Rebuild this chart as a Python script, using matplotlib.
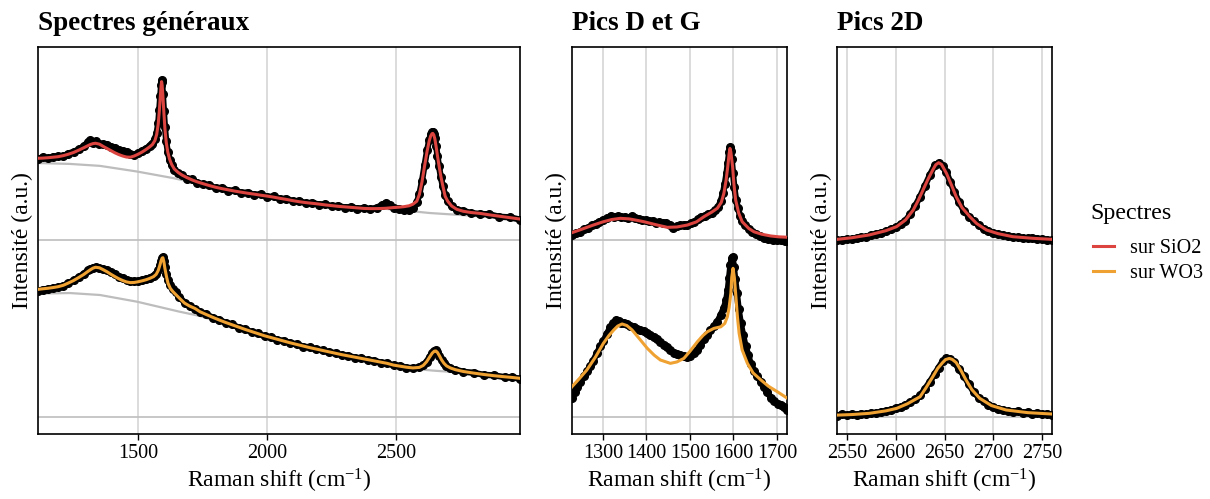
import matplotlib.pyplot as plt

plt.rcParams['font.family'] = ['Liberation Serif', 'DejaVu Serif']
plt.rcParams['mathtext.fontset'] = 'custom'
plt.rcParams['mathtext.rm'] = 'Liberation Serif'
plt.rcParams['mathtext.it'] = 'Liberation Serif:italic'

RED = '#DC4440'
ORANGE = '#EFA232'
GRID = '#D9D9D9'
HLINE = '#BEBEBE'

# ---- Panel 1 : spectres généraux (décalés de +1 pour SiO2) ----
gen_sio2_x = [1112, 1130, 1150, 1170, 1190, 1210, 1230, 1250, 1270, 1290, 1305, 1315, 1325, 1335,
              1350, 1365, 1380, 1395, 1410, 1425, 1440, 1455, 1470, 1485, 1500, 1515, 1530, 1545,
              1555, 1565, 1572, 1578, 1582, 1586, 1589, 1591, 1593, 1596, 1600, 1604, 1609, 1615,
              1622, 1630, 1640, 1655, 1670, 1690, 1710, 1730, 1750, 1775, 1800, 1825, 1850, 1875,
              1900, 1925, 1950, 1975, 2000, 2025, 2050, 2075, 2100, 2125, 2150, 2175, 2200, 2225,
              2250, 2275, 2300, 2325, 2350, 2375, 2400, 2425, 2445, 2460, 2475, 2490, 2510, 2530,
              2550, 2565, 2580, 2590, 2600, 2610, 2620, 2628, 2634, 2639, 2642, 2646, 2650, 2655,
              2660, 2666, 2673, 2680, 2690, 2700, 2715, 2735, 2760, 2790, 2825, 2860, 2900, 2940, 2980]
gen_sio2_fit = [1.465, 1.466, 1.468, 1.471, 1.474, 1.480, 1.488, 1.498, 1.511, 1.525, 1.536, 1.543, 1.548, 1.550,
                1.545, 1.532, 1.520, 1.508, 1.496, 1.486, 1.478, 1.472, 1.471, 1.478, 1.488, 1.500, 1.514, 1.530,
                1.542, 1.565, 1.600, 1.660, 1.730, 1.815, 1.875, 1.899, 1.880, 1.820, 1.720, 1.630, 1.555, 1.500,
                1.460, 1.430, 1.405, 1.385, 1.370, 1.355, 1.342, 1.331, 1.322, 1.311, 1.301, 1.293, 1.286, 1.279,
                1.273, 1.267, 1.262, 1.256, 1.251, 1.245, 1.238, 1.232, 1.225, 1.219, 1.214, 1.210, 1.206, 1.201,
                1.197, 1.193, 1.190, 1.187, 1.184, 1.181, 1.180, 1.180, 1.181, 1.182, 1.184, 1.186, 1.188, 1.191,
                1.196, 1.205, 1.222, 1.260, 1.330, 1.420, 1.505, 1.562, 1.592, 1.604, 1.606, 1.597, 1.575, 1.530,
                1.480, 1.425, 1.365, 1.315, 1.250, 1.222, 1.195, 1.176, 1.165, 1.158, 1.153, 1.145, 1.137, 1.129, 1.121]
gen_sio2_raw = [1.462, 1.470, 1.464, 1.474, 1.478, 1.476, 1.492, 1.502, 1.515, 1.535, 1.556, 1.566, 1.552, 1.560,
                1.548, 1.545, 1.540, 1.528, 1.524, 1.512, 1.505, 1.500, 1.488, 1.482, 1.494, 1.508, 1.520, 1.535,
                1.548, 1.575, 1.610, 1.665, 1.740, 1.820, 1.880, 1.910, 1.895, 1.830, 1.730, 1.640, 1.560, 1.500,
                1.455, 1.425, 1.400, 1.380, 1.368, 1.350, 1.345, 1.325, 1.318, 1.314, 1.296, 1.298, 1.282, 1.284,
                1.270, 1.271, 1.258, 1.262, 1.246, 1.249, 1.235, 1.237, 1.222, 1.224, 1.210, 1.214, 1.203, 1.205,
                1.193, 1.197, 1.186, 1.190, 1.180, 1.184, 1.177, 1.186, 1.200, 1.212, 1.200, 1.182, 1.180, 1.175,
                1.170, 1.185, 1.215, 1.262, 1.335, 1.425, 1.510, 1.568, 1.600, 1.612, 1.615, 1.605, 1.580, 1.535,
                1.480, 1.420, 1.360, 1.310, 1.255, 1.222, 1.192, 1.172, 1.168, 1.155, 1.150, 1.148, 1.134, 1.131, 1.118]
gen_sio2_base_x = [1112, 1236, 1352, 1496, 1635, 1740, 1934, 2127, 2321, 2515, 2631, 2748, 2980]
gen_sio2_base = [1.438, 1.433, 1.422, 1.390, 1.353, 1.320, 1.268, 1.228, 1.195, 1.172, 1.155, 1.144, 1.121]

gen_wo3_x = [1112, 1130, 1150, 1170, 1190, 1210, 1230, 1250, 1270, 1290, 1305, 1315, 1325, 1335,
             1350, 1365, 1380, 1395, 1410, 1425, 1440, 1455, 1470, 1485, 1500, 1515, 1530, 1545,
             1560, 1570, 1578, 1584, 1589, 1593, 1596, 1600, 1604, 1610, 1616, 1625, 1635, 1645,
             1660, 1680, 1700, 1720, 1740, 1765, 1790, 1815, 1840, 1865, 1890, 1915, 1940, 1965,
             1990, 2015, 2040, 2065, 2090, 2115, 2140, 2165, 2190, 2215, 2240, 2265, 2290, 2315,
             2340, 2365, 2390, 2415, 2440, 2465, 2490, 2515, 2540, 2565, 2590, 2605, 2618, 2630,
             2640, 2648, 2654, 2660, 2668, 2676, 2685, 2695, 2710, 2730, 2760, 2800, 2840, 2880,
             2920, 2950, 2980]
gen_wo3_fit = [0.723, 0.726, 0.729, 0.733, 0.738, 0.746, 0.759, 0.773, 0.790, 0.808, 0.824, 0.834, 0.843, 0.848,
               0.845, 0.834, 0.822, 0.808, 0.795, 0.783, 0.773, 0.765, 0.761, 0.762, 0.766, 0.771, 0.777, 0.785,
               0.795, 0.808, 0.830, 0.858, 0.885, 0.900, 0.902, 0.878, 0.840, 0.795, 0.757, 0.728, 0.710, 0.695,
               0.673, 0.645, 0.628, 0.615, 0.596, 0.580, 0.564, 0.549, 0.535, 0.522, 0.509, 0.496, 0.484, 0.472,
               0.460, 0.450, 0.440, 0.430, 0.420, 0.411, 0.402, 0.393, 0.385, 0.377, 0.369, 0.361, 0.353, 0.346,
               0.339, 0.332, 0.325, 0.318, 0.311, 0.304, 0.294, 0.288, 0.282, 0.278, 0.281, 0.292, 0.313, 0.340,
               0.362, 0.373, 0.374, 0.366, 0.346, 0.324, 0.305, 0.290, 0.278, 0.268, 0.258, 0.249, 0.241, 0.234,
               0.228, 0.224, 0.219]
gen_wo3_raw = [0.715, 0.722, 0.726, 0.730, 0.736, 0.744, 0.758, 0.774, 0.792, 0.812, 0.830, 0.840, 0.846, 0.850,
               0.845, 0.838, 0.830, 0.820, 0.808, 0.795, 0.785, 0.778, 0.770, 0.768, 0.770, 0.774, 0.780, 0.790,
               0.800, 0.812, 0.832, 0.860, 0.885, 0.900, 0.905, 0.885, 0.850, 0.810, 0.778, 0.745, 0.725, 0.708,
               0.680, 0.648, 0.630, 0.612, 0.594, 0.582, 0.562, 0.551, 0.532, 0.524, 0.506, 0.498, 0.481, 0.474,
               0.457, 0.452, 0.437, 0.432, 0.418, 0.413, 0.399, 0.395, 0.383, 0.379, 0.366, 0.363, 0.351, 0.348,
               0.336, 0.334, 0.322, 0.320, 0.308, 0.306, 0.292, 0.290, 0.280, 0.277, 0.282, 0.293, 0.314, 0.342,
               0.364, 0.375, 0.377, 0.368, 0.347, 0.325, 0.304, 0.288, 0.276, 0.269, 0.256, 0.251, 0.239, 0.236,
               0.226, 0.225, 0.217]
gen_wo3_base_x = [1112, 1236, 1352, 1496, 1662, 1740, 1984, 2244, 2515, 2643, 2748, 2980]
gen_wo3_base = [0.699, 0.702, 0.691, 0.653, 0.596, 0.572, 0.453, 0.351, 0.280, 0.263, 0.252, 0.215]

# ---- Panel 2 : pics D et G (ligne de base soustraite) ----
dg_sio2_fit_x = [1229, 1250, 1278, 1300, 1320, 1340, 1360, 1380, 1394, 1420, 1448, 1470, 1494, 1515,
                 1532, 1550, 1563, 1572, 1578, 1583, 1587, 1590, 1592, 1594, 1598, 1601, 1605, 1612,
                 1620, 1635, 1647, 1665, 1686, 1705, 1724]
dg_sio2_fit = [1.044, 1.062, 1.087, 1.105, 1.118, 1.125, 1.122, 1.113, 1.106, 1.090, 1.074, 1.076, 1.087, 1.105,
               1.134, 1.160, 1.182, 1.215, 1.267, 1.340, 1.420, 1.490, 1.521, 1.500, 1.417, 1.320, 1.229, 1.155,
               1.106, 1.068, 1.049, 1.035, 1.025, 1.020, 1.018]
dg_sio2_raw_x = [1229, 1238, 1247, 1256, 1265, 1274, 1283, 1292, 1301, 1310, 1318, 1326, 1334, 1342,
                 1350, 1358, 1366, 1374, 1382, 1390, 1398, 1406, 1414, 1422, 1430, 1438, 1446, 1454,
                 1462, 1470, 1478, 1486, 1494, 1502, 1510, 1518, 1526, 1534, 1542, 1550, 1558, 1565,
                 1571, 1576, 1580, 1584, 1587, 1590, 1592, 1594, 1596, 1599, 1602, 1606, 1610, 1615,
                 1620, 1627, 1635, 1643, 1652, 1661, 1670, 1680, 1690, 1700, 1710, 1718, 1724]
dg_sio2_raw = [1.032, 1.040, 1.050, 1.062, 1.070, 1.085, 1.095, 1.105, 1.118, 1.125, 1.140, 1.132, 1.138, 1.130,
               1.134, 1.126, 1.138, 1.128, 1.122, 1.118, 1.116, 1.110, 1.112, 1.100, 1.104, 1.096, 1.098, 1.088,
               1.070, 1.082, 1.086, 1.090, 1.088, 1.096, 1.104, 1.120, 1.134, 1.140, 1.148, 1.158, 1.172, 1.190,
               1.225, 1.270, 1.320, 1.380, 1.440, 1.500, 1.530, 1.505, 1.460, 1.380, 1.300, 1.230, 1.185, 1.140,
               1.110, 1.085, 1.065, 1.045, 1.035, 1.025, 1.015, 1.010, 1.005, 1.002, 1.000, 0.995, 0.998]

dg_wo3_fit_x = [1229, 1245, 1263, 1283, 1301, 1314, 1325, 1334, 1344, 1355, 1367, 1385, 1402, 1418,
                1432, 1455, 1470, 1486, 1500, 1517, 1530, 1540, 1555, 1571, 1580, 1586, 1590, 1594,
                1596, 1599, 1602, 1605, 1609, 1613, 1620, 1632, 1645, 1663, 1680, 1701, 1724]
dg_wo3_fit = [0.172, 0.215, 0.266, 0.340, 0.417, 0.462, 0.493, 0.515, 0.527, 0.518, 0.493, 0.440, 0.389, 0.350,
              0.323, 0.304, 0.312, 0.332, 0.372, 0.426, 0.462, 0.483, 0.502, 0.511, 0.530, 0.568, 0.620, 0.700,
              0.790, 0.842, 0.790, 0.700, 0.570, 0.474, 0.380, 0.304, 0.250, 0.210, 0.175, 0.143, 0.106]
dg_wo3_raw_x = [1229, 1235, 1241, 1248, 1256, 1264, 1271, 1278, 1286, 1294, 1301, 1309, 1317, 1324,
                1330, 1336, 1342, 1348, 1356, 1363, 1371, 1379, 1386, 1394, 1401, 1409, 1417, 1425,
                1432, 1440, 1448, 1455, 1463, 1471, 1478, 1486, 1494, 1501, 1509, 1517, 1524, 1532,
                1540, 1547, 1555, 1563, 1571, 1578, 1583, 1587, 1590, 1593, 1596, 1598, 1601, 1604,
                1608, 1612, 1617, 1622, 1628, 1634, 1640, 1648, 1655, 1663, 1670, 1678, 1686, 1694,
                1702, 1709, 1716, 1724]
dg_wo3_raw = [0.110, 0.140, 0.170, 0.200, 0.230, 0.260, 0.290, 0.320, 0.360, 0.400, 0.430, 0.470, 0.510, 0.530,
              0.550, 0.545, 0.535, 0.530, 0.525, 0.515, 0.510, 0.500, 0.490, 0.485, 0.476, 0.465, 0.452, 0.440,
              0.425, 0.410, 0.395, 0.380, 0.365, 0.355, 0.350, 0.345, 0.340, 0.345, 0.360, 0.380, 0.410, 0.440,
              0.465, 0.490, 0.515, 0.540, 0.580, 0.620, 0.660, 0.720, 0.790, 0.860, 0.900, 0.905, 0.850, 0.780,
              0.700, 0.610, 0.530, 0.465, 0.400, 0.350, 0.300, 0.260, 0.230, 0.200, 0.170, 0.140, 0.110, 0.090,
              0.075, 0.070, 0.055, 0.040]

# ---- Panel 3 : pic 2D ----
p2d_fit_x = [2540, 2555, 2573, 2590, 2601, 2610, 2618, 2623, 2628, 2633, 2638, 2641, 2644, 2647,
             2652, 2657, 2662, 2668, 2676, 2683, 2693, 2705, 2720, 2740, 2760]
p2d_sio2_fit = [1.006, 1.015, 1.031, 1.055, 1.078, 1.115, 1.172, 1.225, 1.285, 1.345, 1.399, 1.428, 1.440, 1.430,
                1.380, 1.315, 1.247, 1.185, 1.134, 1.095, 1.059, 1.038, 1.021, 1.012, 1.006]
p2d_wo3_fit_x = [2540, 2555, 2573, 2590, 2601, 2612, 2625, 2631, 2638, 2643, 2648, 2651, 2655, 2658,
                 2662, 2667, 2672, 2678, 2686, 2698, 2713, 2735, 2760]
p2d_wo3_fit = [0.011, 0.014, 0.021, 0.035, 0.049, 0.075, 0.115, 0.165, 0.228, 0.275, 0.308, 0.325, 0.332, 0.326,
               0.308, 0.262, 0.210, 0.155, 0.106, 0.065, 0.040, 0.025, 0.017]
p2d_raw_x = [2540, 2545, 2550, 2555, 2560, 2565, 2570, 2575, 2580, 2585, 2590, 2595, 2600, 2605, 2610,
             2615, 2620, 2625, 2630, 2635, 2640, 2644, 2648, 2652, 2656, 2660, 2665, 2670, 2675, 2680,
             2685, 2690, 2695, 2700, 2705, 2710, 2715, 2720, 2725, 2730, 2735, 2740, 2745, 2750, 2755, 2760]
p2d_sio2_raw = [1.000, 1.004, 1.008, 1.006, 1.014, 1.018, 1.022, 1.030, 1.036, 1.044, 1.052, 1.062, 1.074, 1.092, 1.112,
                1.148, 1.195, 1.248, 1.310, 1.370, 1.425, 1.438, 1.420, 1.385, 1.330, 1.275, 1.215, 1.165, 1.135, 1.110,
                1.085, 1.065, 1.052, 1.042, 1.036, 1.030, 1.024, 1.020, 1.018, 1.014, 1.012, 1.016, 1.010, 1.006, 1.004, 1.002]
p2d_wo3_raw = [0.008, 0.016, 0.010, 0.018, 0.012, 0.020, 0.015, 0.024, 0.022, 0.030, 0.034, 0.042, 0.050, 0.058, 0.070,
               0.085, 0.100, 0.122, 0.160, 0.200, 0.245, 0.280, 0.315, 0.332, 0.328, 0.310, 0.270, 0.232, 0.185, 0.140,
               0.110, 0.088, 0.070, 0.058, 0.046, 0.040, 0.032, 0.030, 0.035, 0.022, 0.028, 0.020, 0.024, 0.015, 0.020, 0.014]

titles = ['Spectres généraux', 'Pics D et G', 'Pics 2D']
xlims = [(1112, 2980), (1229, 1723), (2540, 2760)]
xticks = [[1500, 2000, 2500], [1300, 1400, 1500, 1600, 1700], [2550, 2600, 2650, 2700, 2750]]
ylim = (-0.096, 2.095)

fig = plt.figure(figsize=(12.1, 4.99), dpi=100)
ax1 = fig.add_axes([38 / 1210, 65 / 499, 482 / 1210, 387 / 499])
ax2 = fig.add_axes([572 / 1210, 65 / 499, 215 / 1210, 387 / 499])
ax3 = fig.add_axes([837 / 1210, 65 / 499, 215 / 1210, 387 / 499])
axes = [ax1, ax2, ax3]


def draw_raw(ax, x, y):
    ax.plot(x, y, color='black', lw=4.5, marker='o', ms=5.5, zorder=3, solid_capstyle='round')


# baselines
ax1.plot(gen_sio2_base_x, gen_sio2_base, color='#BDBDBD', lw=1.6, zorder=2)
ax1.plot(gen_wo3_base_x, gen_wo3_base, color='#BDBDBD', lw=1.6, zorder=2)

# raw data
draw_raw(ax1, gen_sio2_x, gen_sio2_raw)
draw_raw(ax1, gen_wo3_x, gen_wo3_raw)
draw_raw(ax2, dg_sio2_raw_x, dg_sio2_raw)
draw_raw(ax2, dg_wo3_raw_x, dg_wo3_raw)
draw_raw(ax3, p2d_raw_x, p2d_sio2_raw)
draw_raw(ax3, p2d_raw_x, p2d_wo3_raw)

# fits
h_sio2, = ax1.plot(gen_sio2_x, gen_sio2_fit, color=RED, lw=2.2, zorder=4, label='sur SiO2')
h_wo3, = ax1.plot(gen_wo3_x, gen_wo3_fit, color=ORANGE, lw=2.2, zorder=4, label='sur WO3')
ax2.plot(dg_sio2_fit_x, dg_sio2_fit, color=RED, lw=2.2, zorder=4)
ax2.plot(dg_wo3_fit_x, dg_wo3_fit, color=ORANGE, lw=2.2, zorder=4)
ax3.plot(p2d_fit_x, p2d_sio2_fit, color=RED, lw=2.2, zorder=4)
ax3.plot(p2d_wo3_fit_x, p2d_wo3_fit, color=ORANGE, lw=2.2, zorder=4)

for ax, title, xl, xt in zip(axes, titles, xlims, xticks):
    ax.set_xlim(xl)
    ax.set_ylim(ylim)
    ax.set_xticks(xt)
    ax.set_yticks([])
    ax.axhline(0, color=HLINE, lw=1.2, zorder=1)
    ax.axhline(1, color=HLINE, lw=1.2, zorder=1)
    for v in xt:
        ax.axvline(v, color=GRID, lw=1.3, zorder=0)
    for s in ax.spines.values():
        s.set_linewidth(1.2)
    ax.tick_params(axis='x', labelsize=14.5, length=4, width=1, pad=3)
    ax.set_xlabel('Raman shift (cm$^{-1}$)', fontsize=17, labelpad=3)
    ax.set_ylabel('Intensité (a.u.)', fontsize=17, labelpad=3.5)
    ax.set_title(title, loc='left', fontsize=19.5, fontweight='bold', pad=12.5)

# legend: title placed separately to match spacing
fig.text(1090 / 1210, 1 - 213 / 499, 'Spectres', fontsize=17.3, va='center', ha='left')
fig.legend(handles=[h_sio2, h_wo3], loc='center left', bbox_to_anchor=(1085 / 1210, 1 - 261 / 499),
           borderaxespad=0, frameon=False, fontsize=14.5,
           handlelength=1.05, handletextpad=0.8, labelspacing=0.25)

fig.savefig('out.png', dpi=100)
